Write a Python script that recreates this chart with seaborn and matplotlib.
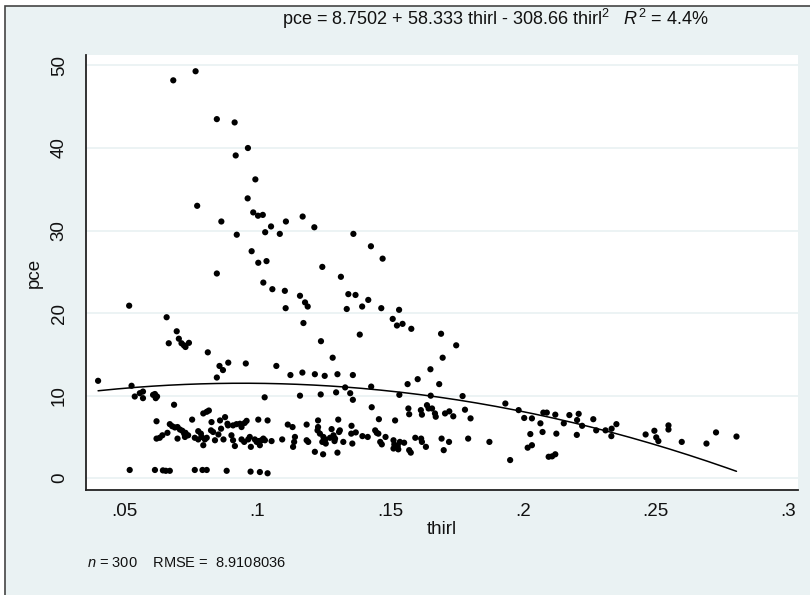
import numpy as np
import pandas as pd
import matplotlib
matplotlib.use("Agg")
import matplotlib.pyplot as plt
from matplotlib.patches import Rectangle
import seaborn as sns

# values, grouped by region
thirl_a = [0.0401, 0.0527, 0.0539, 0.0558, 0.0570, 0.0570, 0.0608, 0.0618, 0.0623, 0.0615,
           0.0687, 0.0621, 0.0621, 0.0633, 0.0643, 0.0662,
           0.0671, 0.0680, 0.0690, 0.0700, 0.0709, 0.0718, 0.0725, 0.0730,
           0.0700, 0.0728, 0.0755,
           0.0740, 0.0765, 0.0778, 0.0791, 0.0797, 0.0803, 0.0810,
           0.0778, 0.0788, 0.0797, 0.0810, 0.0818,
           0.0828, 0.0826, 0.0834, 0.0841,
           0.0860, 0.0864, 0.0854, 0.0873, 0.0879,
           0.0888, 0.0890, 0.0903, 0.0909, 0.0916,
           0.0909, 0.0922, 0.0935, 0.0941, 0.0953, 0.0960,
           0.0941, 0.0951, 0.0966]
pce_a = [11.8, 11.2, 9.9, 10.3, 9.7, 10.5, 10.1, 9.7, 9.9, 10.2,
         8.9, 6.9, 4.8, 4.9, 5.2, 5.5,
         6.55, 6.3, 6.15, 6.2, 5.9, 5.75, 5.4, 5.5,
         4.8, 5.0, 7.1,
         5.2, 4.9, 4.7, 5.0, 4.0, 4.7, 4.9,
         5.7, 5.4, 7.85, 8.05, 8.2,
         6.8, 5.8, 5.6, 4.6,
         7.0, 6.0, 5.3, 4.7, 7.4,
         6.6, 6.4, 5.2, 4.6, 3.9,
         6.4, 6.55, 6.6, 6.2, 6.7, 6.95,
         4.7, 4.4, 4.7]

thirl_b = [0.0972, 0.0976, 0.0991, 0.0998, 0.1004, 0.1010, 0.1016, 0.1023, 0.1004]
pce_b = [5.0, 3.8, 4.7, 4.4, 4.5, 4.0, 4.6, 4.8, 7.1]

thirl_floor = [0.0520, 0.0615, 0.0645, 0.0656, 0.0671, 0.0765, 0.0794, 0.0810, 0.0885,
               0.0975, 0.1010, 0.1039]
pce_floor = [1.0, 1.0, 0.95, 0.9, 0.9, 1.0, 1.0, 1.0, 0.9, 0.8, 0.75, 0.6]

thirl_high = [0.0518, 0.0659, 0.0697, 0.0705, 0.0715, 0.0724, 0.0730, 0.0743, 0.0667, 0.0814,
              0.0848, 0.0858, 0.0871, 0.0891, 0.0957, 0.0848,
              0.0684, 0.0768, 0.0848, 0.0915, 0.0965, 0.0919, 0.0774, 0.0964, 0.0865, 0.0923]
pce_high = [20.9, 19.5, 17.8, 16.9, 16.35, 16.1, 15.9, 16.4, 16.35, 15.25,
            24.8, 13.6, 13.1, 14.0, 13.9, 12.2,
            48.2, 49.3, 43.5, 43.1, 40.0, 39.1, 33.0, 33.9, 31.1, 29.5]

thirl_mid = [0.0993, 0.0985, 0.1003, 0.1021, 0.1030, 0.1052, 0.1085, 0.1108, 0.1171, 0.1215,
             0.0979, 0.1004, 0.1035, 0.1362, 0.1428, 0.1472,
             0.1023, 0.1057, 0.1104, 0.1161, 0.1180, 0.1190, 0.1107, 0.1174,
             0.1245, 0.1315, 0.1343, 0.1370, 0.1337, 0.1395, 0.1418, 0.1467, 0.1534,
             0.1510, 0.1526, 0.1547, 0.1580, 0.1386, 0.1240,
             0.1692, 0.1698, 0.1284, 0.1652, 0.1604,
             0.1072, 0.1125, 0.1170, 0.1217, 0.1254, 0.1302, 0.1360]
pce_mid = [36.2, 32.2, 31.8, 31.9, 29.8, 30.5, 29.6, 31.1, 31.7, 30.4,
           27.5, 26.1, 26.3, 29.6, 28.1, 26.6,
           23.7, 22.9, 22.7, 22.1, 21.3, 20.8, 20.6, 18.8,
           25.6, 24.4, 22.3, 22.2, 20.5, 20.8, 21.6, 20.6, 20.4,
           19.3, 18.5, 18.7, 18.1, 17.4, 16.6,
           17.5, 14.6, 14.6, 13.2, 12.0,
           13.6, 12.5, 12.8, 12.6, 12.4, 12.6, 12.5]

thirl_c = [0.1028, 0.1039, 0.1029, 0.1054,
           0.1161, 0.1239, 0.1297, 0.1331, 0.1350, 0.1360,
           0.1429, 0.1431, 0.1535, 0.1566, 0.1685, 0.1653,
           0.1569, 0.1572, 0.1616, 0.1620, 0.1639, 0.1645, 0.1658, 0.1669, 0.1672,
           0.1519, 0.1458, 0.1115, 0.1133, 0.1186, 0.1229, 0.1229, 0.1227, 0.1305, 0.1355, 0.1280, 0.1311,
           0.1094, 0.1142, 0.1139, 0.1135, 0.1186, 0.1192,
           0.1217, 0.1248, 0.1302,
           0.1236, 0.1249, 0.1256, 0.1245, 0.1258, 0.1274, 0.1287, 0.1293, 0.1291, 0.1308, 0.1324,
           0.1354, 0.1371, 0.1358, 0.1396, 0.1416,
           0.1444, 0.1450, 0.1456, 0.1463, 0.1469, 0.1483,
           0.1513, 0.1516, 0.1513, 0.1531, 0.1529, 0.1537, 0.1553,
           0.1572, 0.1578,
           0.1595, 0.1617, 0.1620, 0.1635,
           0.1694, 0.1702, 0.1722, 0.1707, 0.1723]
pce_c = [9.8, 7.0, 4.6, 4.5,
         10.0, 10.15, 10.4, 11.0, 10.3, 9.5,
         11.1, 8.6, 10.1, 11.4, 11.4, 10.0,
         8.45, 7.75, 8.25, 7.7, 8.85, 8.45, 8.45, 7.85, 7.45,
         7.0, 7.15, 6.5, 6.2, 6.5, 7.0, 6.2, 5.8, 7.1, 6.35, 5.95, 5.8,
         4.7, 5.0, 4.4, 3.8, 4.6, 4.4,
         3.2, 2.9, 3.1,
         5.4, 5.0, 4.7, 4.4, 4.2, 4.9, 5.2, 4.8, 4.5, 5.6, 4.4,
         5.4, 5.55, 4.2, 5.1, 5.0,
         5.8, 5.5, 5.4, 4.4, 4.1, 5.0,
         4.6, 4.1, 3.6, 3.5, 3.9, 4.4, 4.3,
         3.4, 3.1,
         4.9, 4.8, 4.4, 3.8,
         4.8, 3.4, 4.4, 7.85, 8.1]

thirl_e = [0.1749, 0.1773, 0.1738, 0.1782, 0.1803, 0.1794, 0.1874, 0.1934, 0.1952, 0.1984,
           0.2005, 0.2034, 0.2018, 0.2034, 0.2028, 0.2066, 0.2074, 0.2077, 0.2090,
           0.2097, 0.2110, 0.2122, 0.2122, 0.2126, 0.2154,
           0.2175, 0.2204, 0.2210, 0.2203, 0.2223, 0.2265, 0.2276,
           0.2311, 0.2334, 0.2333, 0.2352, 0.2462, 0.2495, 0.2502, 0.2510,
           0.2548, 0.2548, 0.2598, 0.2691, 0.2727, 0.2804]
pce_e = [16.1, 9.95, 7.5, 8.3, 7.25, 4.8, 4.4, 9.05, 2.2, 8.25,
         7.3, 7.25, 3.7, 4.0, 5.35, 6.65, 5.6, 7.95, 7.95,
         2.6, 2.65, 2.9, 7.7, 5.4, 6.65,
         7.65, 7.05, 7.8, 5.25, 6.35, 7.15, 5.8,
         5.8, 6.0, 5.1, 6.55, 5.3, 5.75, 4.95, 4.5,
         6.4, 5.9, 4.4, 4.2, 5.55, 5.05]

# quadratic fit reported in the title
b0, b1, b2 = 8.7502, 58.333, -308.66

xticks = [0.05, 0.10, 0.15, 0.20, 0.25, 0.30]
xticklabels = [".05", ".1", ".15", ".2", ".25", ".3"]
yticks = [0, 10, 20, 30, 40, 50]

BG = "#EAF2F3"

df = pd.DataFrame({
    "thirl": np.concatenate([thirl_a, thirl_b, thirl_floor, thirl_high, thirl_mid, thirl_c, thirl_e]),
    "pce": np.concatenate([pce_a, pce_b, pce_floor, pce_high, pce_mid, pce_c, pce_e]),
})
xfit = np.linspace(df["thirl"].min(), df["thirl"].max(), 200)
yfit = b0 + b1 * xfit + b2 * xfit ** 2

sns.set_theme(style="white")
plt.rcParams['font.family'] = ['Liberation Sans Narrow', 'Liberation Sans', 'DejaVu Sans']
plt.rcParams['mathtext.fontset'] = 'custom'
plt.rcParams['mathtext.rm'] = 'Liberation Sans'
plt.rcParams['mathtext.it'] = 'Liberation Sans:italic'

fig = plt.figure(figsize=(8.1, 5.95), dpi=100)
fig.patch.set_facecolor("white")
frame = Rectangle((5 / 810, -0.01), 1.0, 1 - 6 / 595 + 0.01, transform=fig.transFigure,
                  facecolor=BG, edgecolor="#444444", lw=1.2, zorder=-5)
fig.patches.append(frame)

ax = fig.add_axes([0.106, 0.176, 0.879, 0.732])
ax.set_zorder(2)
ax.set_facecolor("white")

sns.scatterplot(data=df, x="thirl", y="pce", color="black", s=20, edgecolor="none", ax=ax, zorder=3)
sns.lineplot(x=xfit, y=yfit, color="black", lw=1.1, ax=ax, zorder=4)

ax.set_xlim(0.0355, 0.3035)
ax.set_ylim(-1.46, 51.3)
ax.set_xticks(xticks)
ax.set_xticklabels(xticklabels)
ax.set_yticks(yticks)
ax.set_yticklabels([str(v) for v in yticks], rotation=90, va="center")
ax.yaxis.grid(True, color=BG, lw=1.3)
ax.set_axisbelow(True)

for s in ["top", "right"]:
    ax.spines[s].set_visible(False)
for s in ["left", "bottom"]:
    ax.spines[s].set_color("#222222")
    ax.spines[s].set_linewidth(1.3)
ax.tick_params(direction="out", length=6, width=1, color="#333333", labelsize=13.5, labelcolor="#111111")
ax.tick_params(axis="y", pad=7)
ax.tick_params(axis="x", pad=3)

ax.set_xlabel("thirl", fontsize=13.5, color="#111111", labelpad=1)
ax.set_ylabel("pce", fontsize=13.5, color="#111111", labelpad=6)

fig.text(495 / 810, 1 - 19 / 595,
         r"pce = 8.7502 + 58.333 thirl - 308.66 thirl$^{2}$   $\mathit{R}^{2}$ = 4.4%",
         ha="center", va="center", fontsize=13, color="#111111")
fig.text(87 / 810, 1 - 563 / 595, r"$\mathit{n}$ = 300    RMSE =  8.9108036",
         ha="left", va="center", fontsize=10.5, color="#111111")

fig.savefig("out.png", dpi=100, facecolor=fig.get_facecolor())
